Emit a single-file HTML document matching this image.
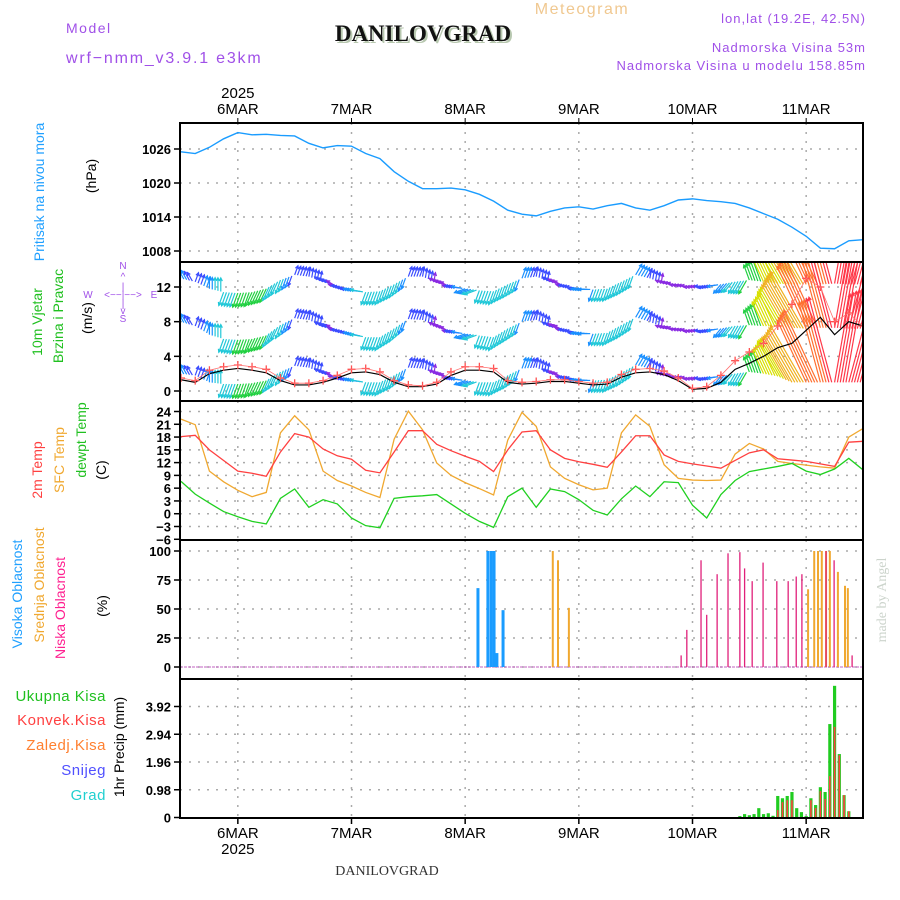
<!DOCTYPE html>
<html><head><meta charset="utf-8"><style>
html,body{margin:0;padding:0;background:#fff}
svg{display:block;font-family:"Liberation Sans",sans-serif}
.tk{font-size:13px;font-weight:bold;fill:#000;text-anchor:end}
.dl{font-size:15px;fill:#000;text-anchor:middle}
</style></head><body>
<svg id="chart" width="900" height="900" viewBox="0 0 900 900">
<text x="66" y="33" font-size="14" fill="#a050e8" letter-spacing="1.5">Model</text>
<text x="66" y="63" font-size="16" fill="#a050e8" letter-spacing="1.8">wrf−nmm_v3.9.1 e3km</text>
<text x="425" y="43" font-size="23" font-weight="bold" font-family="Liberation Serif,serif" fill="#b8c8b0" text-anchor="middle">DANILOVGRAD</text>
<text x="423" y="41" font-size="23" font-weight="bold" font-family="Liberation Serif,serif" fill="#111" text-anchor="middle">DANILOVGRAD</text>
<text x="582" y="14" font-size="16" fill="#f0c890" text-anchor="middle" letter-spacing="1.5">Meteogram</text>
<text x="866" y="23" font-size="13" fill="#a050e8" text-anchor="end" letter-spacing="1">lon,lat (19.2E, 42.5N)</text>
<text x="866" y="52" font-size="13" fill="#a050e8" text-anchor="end" letter-spacing="1">Nadmorska Visina 53m</text>
<text x="866" y="70" font-size="13" fill="#a050e8" text-anchor="end" letter-spacing="1">Nadmorska Visina u modelu 158.85m</text>
<text x="387" y="875" font-size="14" font-family="Liberation Serif,serif" fill="#333" text-anchor="middle">DANILOVGRAD</text>
<text transform="translate(886,600) rotate(-90)" font-size="14" font-family="Liberation Serif,serif" fill="#ccd4cc" text-anchor="middle">made by Angel</text>

<g font-size="14">
<text transform="translate(44,192) rotate(-90)" fill="#20a0ff" text-anchor="middle">Pritisak na nivou mora</text>
<text transform="translate(96,176) rotate(-90)" fill="#000" text-anchor="middle">(hPa)</text>
<text transform="translate(42,322) rotate(-90)" fill="#20c020" text-anchor="middle">10m Vjetar</text>
<text transform="translate(63,316) rotate(-90)" fill="#20c020" text-anchor="middle">Brzina i Pravac</text>
<text transform="translate(92,318) rotate(-90)" fill="#000" text-anchor="middle">(m/s)</text>
<text transform="translate(42,470) rotate(-90)" fill="#ff4040" text-anchor="middle">2m Temp</text>
<text transform="translate(64,460) rotate(-90)" fill="#f0a830" text-anchor="middle">SFC Temp</text>
<text transform="translate(86,440) rotate(-90)" fill="#20c020" text-anchor="middle">dewpt Temp</text>
<text transform="translate(106,470) rotate(-90)" fill="#000" text-anchor="middle">(C)</text>
<text transform="translate(22,594) rotate(-90)" fill="#20a0ff" text-anchor="middle">Visoka Oblacnost</text>
<text transform="translate(44,585) rotate(-90)" fill="#f0a830" text-anchor="middle">Srednja Oblacnost</text>
<text transform="translate(65,608) rotate(-90)" fill="#ff2090" text-anchor="middle">Niska Oblacnost</text>
<text transform="translate(107,606) rotate(-90)" fill="#000" text-anchor="middle">(%)</text>
<text transform="translate(124,747) rotate(-90)" fill="#000" text-anchor="middle">1hr Precip (mm)</text>
</g>
<g font-size="15" text-anchor="end" letter-spacing="0.5">
<text x="106" y="701" fill="#20c020">Ukupna Kisa</text>
<text x="106" y="725" fill="#ff4040">Konvek.Kisa</text>
<text x="106" y="750" fill="#ff8030">Zaledj.Kisa</text>
<text x="106" y="775" fill="#5050ff">Snijeg</text>
<text x="106" y="800" fill="#20d0d0">Grad</text>
</g>
<g font-size="10" fill="#a050e8" text-anchor="middle">
<text x="123" y="269">N</text><text x="123" y="280">^</text><text x="123" y="290">|</text>
<text x="88" y="298">W</text><text x="123" y="298">&lt;−−|−−&gt;</text><text x="154" y="298">E</text>
<text x="123" y="307">|</text><text x="123" y="314">v</text><text x="123" y="322">S</text>
</g>
<g id="plots"></g>
</svg>
<script>
const hours3 = [0,3,6,9,12,15,18,21,24,27,30,33,36,39,42,45,48,51,54,57,60,63,66,69,72,75,78,81,84,87,90,93,96,99,102,105,108,111,114,117,120,123,126,129,132,135,138,141,144];
const pressure = [1025.5,1025.2,1026.3,1027.8,1028.9,1028.5,1028.6,1028.4,1028.3,1027,1026.2,1026.6,1026.5,1025.2,1024.3,1022,1020.3,1019,1019,1019.1,1018.8,1018,1016.8,1015.2,1014.5,1014.2,1015,1015.6,1015.8,1015.4,1016,1016.4,1015.6,1015.2,1016,1017,1017.2,1016.9,1016.7,1016.4,1015.6,1014.6,1013.6,1012.2,1010.6,1008.5,1008.4,1009.8,1010];
const temp2m = [18.1,18.4,15,12.5,10,9.5,8.8,14.5,18.8,18,15.2,13.6,12.8,10.2,9.6,14.5,19.5,19.5,16.3,14.8,13.5,12.3,9.9,15,19.2,19.5,15,13,12.2,11.6,10.9,14.5,18.3,18.3,13.8,12.3,11.7,11.2,10.7,12.5,14.3,15,12.9,12.6,12.3,11.7,11.1,16.8,17];
const tempSfc = [22.2,20.9,10,7.5,5.5,4,5,19,23,19.7,10,7.8,6.5,5,3.8,17.5,24.1,19.7,11.9,9,7.3,5.9,4.4,17.3,23.8,20.5,11,8.3,6.8,5.6,6,19,23.2,20.5,11.5,8.3,7.9,7.8,7.9,14,16.5,15.2,12.3,11.8,11.4,11,10.7,18,20];
const dewpt = [7.6,4.6,2.5,0.5,-0.7,-1.8,-2.4,3.6,5.8,1.5,3.3,2.3,-1,-2.8,-3.3,3.6,4,4.2,4.5,2.3,0.1,-1.8,-3.2,4,6,1.5,5.8,5.2,3.3,0.8,-0.3,3.5,6.5,4,7.5,7.3,2,-1,4.5,7.8,9.9,10.5,11.1,11.8,10,9.2,10.5,13,10.3];
const windRowTop = [13,12.6,11.8,11.4,11.3,11.4,11.8,12.8,13.4,13.2,12.6,12.1,11.6,11.4,11.5,12.3,13.2,13.2,12.5,12,11.8,11.6,11.5,12.3,13,13.2,12.6,12.1,11.8,11.7,11.8,12.6,13.4,13,12.4,12.1,12,12.1,12.3,12.6,12.8,12.6,12.4,12.3,12.3,12.3,12.4,12.3,12.3];
const windRowMid = [8,7.5,6.5,6,5.9,6,6.4,7.6,8.4,8.2,7.4,7,6.6,6.2,6.2,7.2,8.3,8.2,7.4,6.8,6.6,6.4,6.2,7.2,8,8.2,7.4,7,6.7,6.6,6.7,7.6,8.5,8,7.2,7,6.9,7,7.2,7.5,7.6,7.5,7.4,7.3,7.2,7.3,7.3,7.2,7.2];
const windRowLow = [2,1.8,1,0.8,0.8,0.9,1.2,2.2,2.9,2.7,2,1.5,1.2,1,1,1.8,2.7,2.6,1.9,1.4,1.2,1,1,1.8,2.6,2.7,2,1.5,1.3,1.2,1.3,2.1,3,2.6,1.8,1.5,1.4,1.5,1.7,2,2.2,2,1.7,1,1,1,1,1,1];
const windSpeed = [3,2,3,4.5,5,5,5,4.5,2,1.8,2,1.5,2.5,4,4.5,4.5,2.5,2,1.5,1.5,3,4,4.5,4.5,3,2,1.8,1.5,2.5,3.5,4,4.5,3.5,2,1.6,1.4,1.5,1.8,3,4,5.5,7,9,11,13,15,16,17,17];
const windDir = [330,20,0,200,200,205,205,200,20,10,300,280,280,200,200,200,20,10,300,280,250,200,200,200,20,10,300,280,270,200,200,200,30,10,290,280,270,260,220,210,340,335,330,330,335,345,10,15,20];
const gust = [1.5,1.2,2.4,2.8,3,2.8,2.5,1.5,0.9,0.9,1.2,1.8,2.5,2.6,2.2,1.2,0.7,0.6,1,2.2,2.8,2.8,2.6,1.2,1,1.1,1.3,1.3,1.1,0.9,1,1.9,2.5,2.6,2.3,1.5,0.3,0.5,1.8,3.5,4.5,5.5,7.5,10,13,12,8,9,7.5];
const windLine = [1.3,1,2,2.4,2.6,2.4,2.1,1.2,0.7,0.7,1,1.5,2.1,2.2,1.9,1,0.5,0.5,0.8,1.8,2.4,2.4,2.2,1,0.8,0.9,1.1,1.1,0.9,0.7,0.8,1.6,2.1,2.2,1.9,1.2,0.2,0.3,1,2.5,3.2,4,5,5.5,7,8.5,6.5,8,7.5];
const highCloudHours = [62.7,64.8,65.5,66.1,66.7,68];
const highCloud = [68,100,100,100,12,49];
const midCloudHours = [78.5,79.6,81.9,132.4,133.7,134.5,135.3,136.2,137,138.7,140.2,140.8];
const midCloud = [100,92,51,67,100,100,100,100,100,82,70,68];
const lowCloudHours = [105.6,106.8,109.8,111,113.2,115.5,118,119,120.6,122.9,125.8,128.2,129.9,131.1,136.2,137.9,141.7];
const lowCloud = [10,32,92,45,80,98,99,85,74,90,74,74,78,80,100,92,10];
const precipHours = [118,119,120,121,122,123,124,125,126,127,128,129,130,131,132,133,134,135,136,137,138,139,140,141];
const precipTotal = [0.05,0.12,0.08,0.12,0.33,0.12,0.15,0.06,0.76,0.68,0.76,0.9,0.33,0.19,0.05,0.68,0.44,1.07,0.9,3.3,4.65,2.24,0.79,0.22];
const precipConv = [0,0,0,0,0,0,0,0,0.26,0.54,0.61,0.61,0,0,0,0.61,0.34,0.93,0.65,1.46,3.2,2.2,0.79,0.22];
const dayLabels = ['6MAR','7MAR','8MAR','9MAR','10MAR','11MAR'];
const dayHours = [12,36,60,84,108,132];
const pTicks = [1008,1014,1020,1026];
const wTicks = [0,4,8,12];
const tTicks = [-6,-3,0,3,6,9,12,15,18,21,24];
const cTicks = [0,25,50,75,100];
const rTicks = [0,0.98,1.96,2.94,3.92];

const NS='http://www.w3.org/2000/svg';
const root=document.getElementById('plots');
const X0=180,X1=863;
const xh=h=>181+h*682/144;
function el(tag,attrs,parent){const e=document.createElementNS(NS,tag);for(const k in attrs)e.setAttribute(k,attrs[k]);(parent||root).appendChild(e);return e;}
function lin(v0,y0,v1,y1){return v=>y0+(v-v0)*(y1-y0)/(v1-v0);}
const yP=lin(1026,149,1008,251);
const yW=lin(0,391,12,287);
const yT=lin(24,411.5,-3,526.5);
const yC=lin(0,667,100,551);
const yR=lin(0,817.5,3.92,706.5);
const panels=[[123,262,pTicks,yP,'pressure'],[262,401,wTicks,yW,'wind'],[401,540,tTicks,yT,'temperature'],[540,679,cTicks,yC,'cloud'],[679,818,rTicks,yR,'precip']];
panels.forEach(p=>{
  const g=el('g',{});
  
  
  const cp=el('clipPath',{id:'cp-'+p[4]},g);el('rect',{x:X0,y:p[0],width:X1-X0,height:p[1]-p[0]},cp);
  p[2].forEach(t=>{
    const y=p[3](t);
    if(y>p[0]+2&&y<p[1]-1){const gl=el('line',{x1:X0,x2:X1,y1:y,y2:y,stroke:'#aaa','stroke-width':1.5,'stroke-dasharray':'2,7'},g);
      }
    el('line',{x1:X0-6,x2:X0,y1:y,y2:y,stroke:'#000','stroke-width':1.5},g);
    const tx=el('text',{x:X0-9,y:y+5,class:'tk'},g);tx.textContent=String(t).replace('-','−');
    
  });
  dayHours.forEach(h=>{el('line',{x1:xh(h),x2:xh(h),y1:p[0],y2:p[1],stroke:'#aaa','stroke-width':1.5,'stroke-dasharray':'2,7'},g);});
});
function line(arrX,arrY,yf,color,name,w,clip){
  const pl=el('polyline',{points:arrX.map((h,i)=>xh(h)+','+yf(arrY[i])).join(' '),fill:'none',stroke:color,'stroke-width':w||1.3,'clip-path':clip?'url(#cp-'+clip+')':''});
  return pl;
}
line(hours3,pressure,yP,'#1a9cff','pressure-line',1.4);
line(hours3,tempSfc,yT,'#f0a830','sfc-temp-line',1.3,'temperature');
line(hours3,temp2m,yT,'#ff4040','temp-2m-line',1.3,'temperature');
line(hours3,dewpt,yT,'#20d020','dewpt-line',1.3,'temperature');
function spdColor(s){return s<1.7?'#8a2be2':s<2.6?'#3a4cff':s<3.6?'#1a90ff':s<5?'#20c8d8':s<7?'#20d040':s<10?'#d8e000':s<13?'#f0b020':s<15.5?'#ff7030':'#ff3848';}
const wg=el('g',{'clip-path':'url(#cp-wind)'});

[windRowTop,windRowMid,windRowLow].forEach((row,ri)=>{
  for(let i=0;i<hours3.length-1;i++){
    for(let k=0;k<5;k++){
      const f=k/5,h=hours3[i]+3*f;
      const v=row[i]+(row[i+1]-row[i])*f;
      const s=windSpeed[i]+(windSpeed[i+1]-windSpeed[i])*f;
      const d=windDir[i]*Math.PI/180;
      const L=s<5.5?6+s*1.8:16+(s-5.5)*7;
      const x=xh(h),y=yW(v),x2=x+Math.sin(d)*L,y2=y-Math.cos(d)*L;
      const c=spdColor(s);
      el('line',{x1:x,y1:y,x2:x2,y2:y2,stroke:c,'stroke-width':1.2},wg);
      const a1=d+Math.PI*0.85,a2=d-Math.PI*0.85;
      el('polyline',{points:(x2+Math.sin(a1)*3.5)+','+(y2-Math.cos(a1)*3.5)+' '+x2+','+y2+' '+(x2+Math.sin(a2)*3.5)+','+(y2-Math.cos(a2)*3.5),fill:'none',stroke:c,'stroke-width':1.2},wg);
    }
  }
});
line(hours3,windLine,yW,'#000','wind-speed-line',1.2,'wind');
const gg=el('g',{'clip-path':'url(#cp-wind)'});

hours3.forEach((h,i)=>{const x=xh(h),y=yW(gust[i]);
  el('path',{d:`M${x-4},${y}H${x+4}M${x},${y-4}V${y+4}`,stroke:'#ff5050','stroke-width':1.3},gg);});
line(hours3,gust,yW,'#ff7070','gust-line',0.8,'wind');
const cg=el('g',{});
el('line',{x1:X0,x2:X1,y1:yC(0),y2:yC(0),stroke:'#c060c0','stroke-width':1,'stroke-dasharray':'3,1'},cg);
function bars(hs,vals,yf,color,w,name,g){hs.forEach((h,i)=>{const b=el('rect',{x:xh(h)-w/2,y:yf(vals[i]),width:w,height:yf(0)-yf(vals[i]),fill:color},g);});}
bars(highCloudHours,highCloud,yC,'#1a9cff',3,'high-cloud-bar',cg);
bars(midCloudHours,midCloud,yC,'#f0a830',2,'mid-cloud-bar',cg);
bars(lowCloudHours,lowCloud,yC,'#e0207a',1.3,'low-cloud-bar',cg);
const rg=el('g',{});
bars(precipHours,precipTotal,yR,'#20cc20',3.2,'total-precip-bar',rg);
bars(precipHours,precipConv,yR,'#ff4040',1.6,'convective-precip-bar',rg);
panels.forEach(p=>{const r=el('rect',{x:X0,y:p[0],width:X1-X0,height:p[1]-p[0],fill:'none',stroke:'#000','stroke-width':2});
  });
dayHours.forEach((h,i)=>{
  const x=xh(h);
  el('line',{x1:x,x2:x,y1:118,y2:124,stroke:'#000','stroke-width':1});
  el('line',{x1:x,x2:x,y1:818,y2:824,stroke:'#000','stroke-width':1.5});
  const t=el('text',{x:x,y:114,class:'dl'});t.textContent=dayLabels[i];
  
  const b=el('text',{x:x,y:838,class:'dl'});b.textContent=dayLabels[i];
  
});
const y1=el('text',{x:xh(12),y:98,class:'dl'});y1.textContent='2025';

const y2=el('text',{x:xh(12),y:854,class:'dl'});y2.textContent='2025';

</script>
</body></html>
